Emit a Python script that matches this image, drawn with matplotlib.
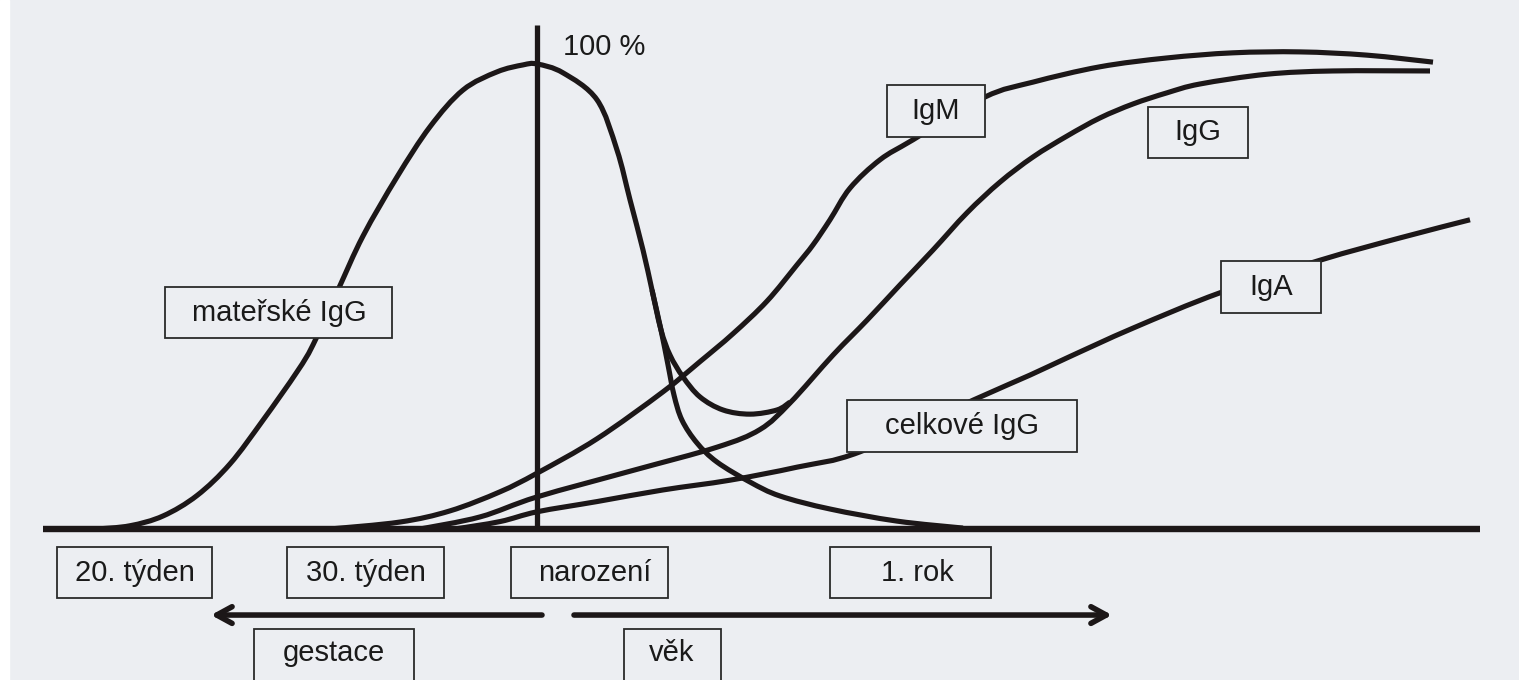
import matplotlib.pyplot as plt
from matplotlib.patches import Rectangle, PathPatch
from matplotlib.path import Path

plt.rcParams['font.family'] = ['Liberation Sans', 'DejaVu Sans']

# --- data: x = time relative to birth (arbitrary units), y = % of adult level ---
maternal_x = [-440, -407, -374, -340, -307, -274, -240, -224, -199, -174, -140, -107, -74, -40, -14, 0,
              26, 60, 80, 93, 106, 115, 124, 131, 137, 145, 160, 180, 213, 243, 293, 360, 426]
maternal_y = [0, 0.7, 2.8, 7.2, 14.0, 23.4, 33.8, 39.6, 51.4, 63.0, 75.7, 86.5, 94.4, 98.3, 99.8, 100,
              98.1, 92.3, 81.5, 70.8, 60.0, 51.4, 42.8, 35.3, 28.8, 23.4, 18.5, 14.4, 10.1, 7.1, 4.3,
              1.7, 0.2]

total_x = [115, 124, 133, 146, 163, 186, 213, 240, 253]
total_y = [51.4, 42.8, 37.4, 32.7, 28.4, 25.6, 24.7, 25.6, 27.3]

igg_x = [-117, -57, 0, 96, 180, 223, 253, 296, 330, 363, 396, 430, 463, 496, 530, 563, 596, 630,
         663, 730, 796, 893]
igg_y = [0, 2.6, 6.9, 12.6, 17.6, 21.4, 27.1, 37.4, 44.9, 52.5, 60.0, 68.0, 74.6, 80.0, 84.5, 88.4,
         91.4, 93.8, 95.7, 97.8, 98.5, 98.5]

igm_x = [-207, -137, -87, -37, 0, 60, 126, 163, 196, 230, 260, 276, 293, 313, 343, 376, 448, 496,
         563, 630, 696, 763, 830, 896]
igm_y = [0, 1.5, 3.9, 8.0, 12.0, 19.4, 29.5, 36.0, 42.0, 49.0, 56.8, 61.1, 66.5, 73.3, 79.4, 83.7,
         92.9, 96.1, 99.4, 101.3, 102.4, 102.6, 101.9, 100.4]

iga_x = [-82, -37, 0, 60, 126, 193, 260, 323, 436, 493, 530, 596, 683, 783, 863, 933]
iga_y = [0, 1.6, 3.7, 5.9, 8.4, 10.5, 13.3, 16.6, 27.7, 33.1, 36.8, 43.2, 50.8, 57.8, 62.6, 66.5]

box_labels = ['mateřské IgG', 'IgM', 'IgG', 'IgA', 'celkové IgG',
              '20. týden', '30. týden', 'narození', '1. rok', 'gestace', 'věk']

# box extents (x0, x1, y0, y1) and text anchor
box_ext = [(-372, -145, 41.1, 52.0), (350, 448, 84.3, 95.5), (611, 711, 79.8, 90.8),
           (684, 784, 46.5, 57.6), (310, 540, 16.6, 27.7),
           (-480, -325, -14.8, -3.9), (-250, -93, -14.8, -3.9), (-26, 131, -14.8, -3.9),
           (293, 454, -14.8, -3.9), (-283, -123, -34.0, -21.5), (87, 184, -34.0, -21.5)]
text_pos = [(-258, 46.5), (399, 89.9), (661, 85.3), (734, 52.0), (425, 22.1),
            (-402, -9.4), (-171, -9.4), (58, -9.4), (380, -9.4), (-203, -26.6), (135, -26.6)]

BG = '#eceef2'
INK = '#1c1718'


def smooth_path(xs, ys):
    # cubic bezier segments through the read points (catmull-rom tangents)
    pts = list(zip(xs, ys))
    verts = [pts[0]]
    codes = [Path.MOVETO]
    for i in range(len(pts) - 1):
        p0 = pts[max(i - 1, 0)]
        p1 = pts[i]
        p2 = pts[i + 1]
        p3 = pts[min(i + 2, len(pts) - 1)]
        c1 = (p1[0] + (p2[0] - p0[0]) / 6, p1[1] + (p2[1] - p0[1]) / 6)
        c2 = (p2[0] - (p3[0] - p1[0]) / 6, p2[1] - (p3[1] - p1[1]) / 6)
        verts += [c1, c2, p2]
        codes += [Path.CURVE4] * 3
    return Path(verts, codes)


fig = plt.figure(figsize=(15.19, 6.8), dpi=100)
fig.patch.set_facecolor(BG)
fig.add_artist(Rectangle((0, 0), 9 / 1519, 1, transform=fig.transFigure, color='white', zorder=0))
ax = fig.add_axes([0, 0, 1, 1])
ax.set_xlim(-537, 982)
ax.set_ylim(-32.47, 113.76)
ax.axis('off')

# axes of the diagram
ax.plot([-494, 943], [0, 0], color=INK, lw=4.6, solid_capstyle='butt', zorder=3)
ax.plot([0, 0], [0, 108.4], color=INK, lw=3.8, solid_capstyle='butt', zorder=3)
ax.text(26, 103.7, '100 %', fontsize=21, color='#1a1a1a', va='center', ha='left')

for xs, ys in [(maternal_x, maternal_y), (total_x, total_y), (igg_x, igg_y),
               (igm_x, igm_y), (iga_x, iga_y)]:
    ax.add_patch(PathPatch(smooth_path(xs, ys), facecolor='none', edgecolor=INK, lw=3.7,
                           capstyle='butt', joinstyle='round', zorder=2))

# time arrows
arrow_kw = dict(arrowstyle='->,head_length=1.1,head_width=0.6', color=INK, lw=4, shrinkA=0, shrinkB=0)
ax.annotate('', xy=(-326, -18.5), xytext=(5, -18.5), arrowprops=arrow_kw)
ax.annotate('', xy=(575, -18.5), xytext=(37, -18.5), arrowprops=arrow_kw)

for label, (x0, x1, y0, y1), (tx, ty) in zip(box_labels, box_ext, text_pos):
    ax.add_patch(Rectangle((x0, y0), x1 - x0, y1 - y0, facecolor=BG, edgecolor='#2a2a2a',
                           lw=1.3, zorder=4, clip_on=False))
    ax.text(tx, ty, label, fontsize=21, color='#1a1a1a', ha='center', va='center', zorder=5)

fig.savefig('out.png', dpi=100, facecolor=fig.get_facecolor())
